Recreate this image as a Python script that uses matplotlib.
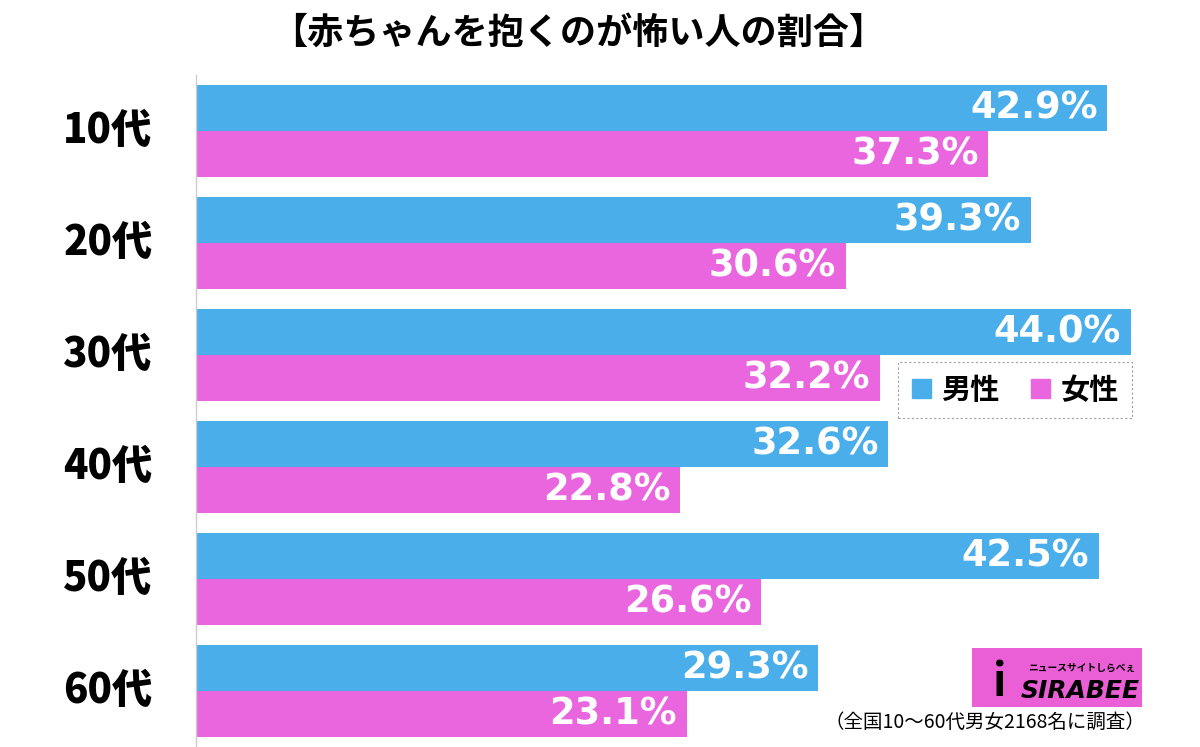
import matplotlib
matplotlib.use("Agg")
import matplotlib.pyplot as plt
from matplotlib.patches import Rectangle, Patch

plt.rcParams["font.family"] = ["Noto Sans CJK JP", "DejaVu Sans"]

# ── data ──
ages   = ["10代", "20代", "30代", "40代", "50代", "60代"]
male   = [42.9, 39.3, 44.0, 32.6, 42.5, 29.3]
female = [37.3, 30.6, 32.2, 22.8, 26.6, 23.1]
title  = "【赤ちゃんを抱くのが怖い人の割合】"
note   = "（全国10〜60代男女2168名に調査）"

BLUE = "#4AAEEA"
PINK = "#EA66DE"
NUMFONT = ["DejaVu Sans", "Noto Sans CJK JP"]

W, H = 1200, 747
fig = plt.figure(figsize=(W/100, H/100), dpi=100)
ax = fig.add_axes([196/W, 0, 1000/W, 672/H])

bh = 0.415
for i, (m, f) in enumerate(zip(male, female)):
    ax.barh(i - bh/2, m, height=bh, color=BLUE, edgecolor="none")
    ax.barh(i + bh/2, f, height=bh, color=PINK, edgecolor="none")
    ax.annotate(f"{m:.1f}%", (m, i - bh/2), xytext=(-7, 0), textcoords="offset points",
                ha="right", va="center", color="white", fontsize=26.5, fontweight="bold",
                family=NUMFONT)
    ax.annotate(f"{f:.1f}%", (f, i + bh/2), xytext=(-7, 0), textcoords="offset points",
                ha="right", va="center", color="white", fontsize=26.5, fontweight="bold",
                family=NUMFONT)
    ax.annotate(ages[i], (0, i), xytext=(-88, 0), textcoords="offset pixels",
                ha="center", va="center", color="black", fontsize=29, fontweight=900,
                annotation_clip=False)

ax.set_xlim(0, 1000/21.24)
ax.set_ylim(5.5, -0.5)
for s in ["top", "right", "bottom"]:
    ax.spines[s].set_visible(False)
ax.spines["left"].set_color("#cccccc")
ax.spines["left"].set_linewidth(1)
ax.set_xticks([]); ax.set_yticks([])

fig.text(578/W, 1 - 33/H, title, ha="center", va="center", fontsize=26, fontweight="bold")

handles = [Patch(color=BLUE, label="男性"), Patch(color=PINK, label="女性")]
leg = fig.legend(handles=handles, loc="center", bbox_to_anchor=(1015/W, 1 - 390/H),
                 ncol=2, frameon=True, handlelength=0.65, handleheight=0.65,
                 columnspacing=1.1, handletextpad=0.35, borderpad=0.45, fancybox=False,
                 prop={"weight": "bold", "size": 21})
leg.get_frame().set_linestyle((0, (2, 2)))
leg.get_frame().set_edgecolor("#888888")
leg.get_frame().set_linewidth(0.8)

# logo
fig.patches.append(Rectangle((972/W, 1 - 707/H), 170/W, 59/H, transform=fig.transFigure,
                             facecolor="#EA5FD6", edgecolor="none"))
fig.text(1000/W, 1 - 683/H, "i", ha="center", va="center", fontsize=32,
         fontweight="bold", color="black", style="italic")
fig.text(1080/W, 1 - 691/H, "SIRABEE", ha="center", va="center", fontsize=18,
         fontweight="bold", color="black", style="italic", family="DejaVu Sans")
fig.text(1082/W, 1 - 668/H, "ニュースサイトしらべぇ", ha="center", va="center",
         fontsize=7, fontweight="bold", color="black")

fig.text(1145/W, 1 - 722/H, note, ha="right", va="center", fontsize=14)

fig.savefig("out.png", dpi=100)
